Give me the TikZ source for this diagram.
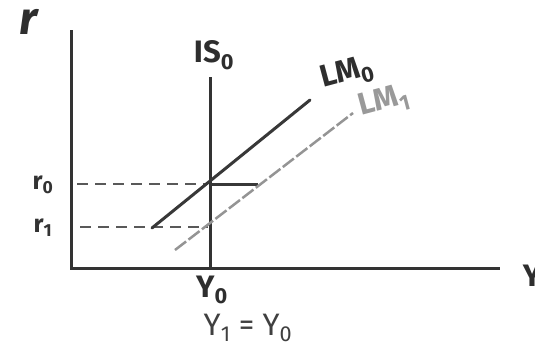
\documentclass[tikz,border=0pt]{standalone}
\usepackage{fontspec}
\setmainfont{Fira Sans}
\begin{document}
\begin{tikzpicture}[x=1pt,y=-1pt,
  axis/.style={line width=3pt, draw=black!80},
  curvedark/.style={line width=3pt, draw=black!78, line cap=round},
  curvelight/.style={line width=2.5pt, draw=black!42, dash pattern=on 14pt off 3pt},
  guide/.style={line width=2pt, draw=black!65, dash pattern=on 11pt off 7pt},
  lab/.style={font=\fontsize{31}{31}\selectfont\bfseries, text=black!82, inner sep=0pt},
  lablight/.style={lab, text=black!40},
  labthin/.style={font=\fontsize{31}{31}\selectfont, text=black!75, inner sep=0pt},
  labsmall/.style={font=\fontsize{25}{25}\selectfont\bfseries, text=black!80, inner sep=0pt}
]
\useasboundingbox (0,0) rectangle (535,349);
% coordinates
\coordinate (O) at (71,268);
\coordinate (ytop) at (71,30);
\coordinate (xend) at (500,268);
\coordinate (istop) at (210,77);
\coordinate (isbot) at (210,268);
\coordinate (lma) at (152,228);
\coordinate (lmb) at (310,100);
\coordinate (lmc) at (175,250);
\coordinate (lmd) at (353,113);
\coordinate (rzl) at (77,184);
\coordinate (rzm) at (208,184);
\coordinate (rzs) at (210,184);
\coordinate (rze) at (258,184);
\coordinate (rol) at (80,227);
\coordinate (roe) at (208,227);
% axes
\draw[axis] (ytop) -- (O) -- (xend);
% IS curve
\draw[axis] (istop) -- (isbot);
% guides
\draw[guide] (rzl) -- (rzm);
\draw[curvedark, line cap=butt] (rzs) -- (rze);
\draw[guide] (rol) -- (roe);
% LM curves
\draw[curvedark] (lma) -- (lmb);
\draw[curvelight] (lmc) -- (lmd);
% labels
\node[lab, font=\fontsize{46}{46}\selectfont\itshape\bfseries] (rlab) at (29,22) {r};
\node[lab] (islab) at (214,55) {IS\textsubscript{0}};
\node[lab, rotate=15] (lm0lab) at (347,74) {LM\textsubscript{0}};
\node[lablight, rotate=15] (lm1lab) at (384,102) {LM\textsubscript{1}};
\node[labsmall] (r0lab) at (43,185) {r\textsubscript{0}};
\node[labsmall] (r1lab) at (43,228) {r\textsubscript{1}};
\node[lab] (y0lab) at (212,290) {Y\textsubscript{0}};
\node[labthin] (eqlab) at (248,328) {Y\textsubscript{1} = Y\textsubscript{0}};
\node[lab] (ylab) at (532,276) {Y};
\end{tikzpicture}
\end{document}
